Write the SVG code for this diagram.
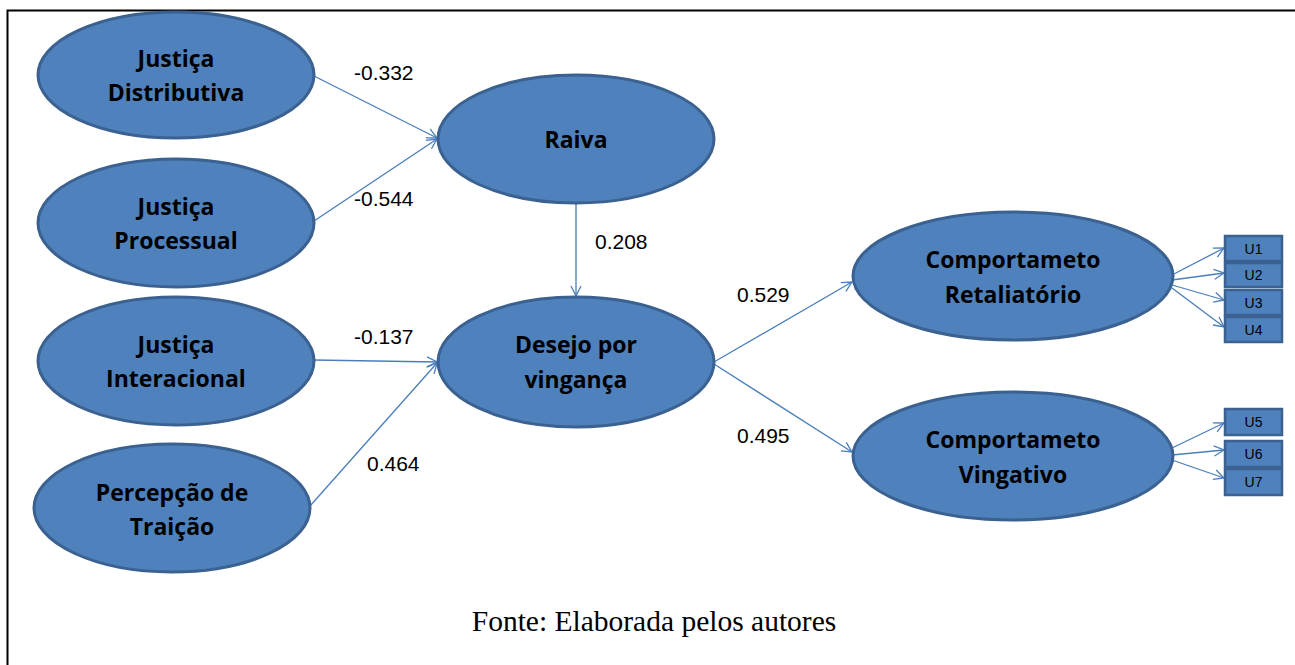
<svg xmlns="http://www.w3.org/2000/svg" width="1295" height="665" viewBox="0 0 1295 665">
<defs>
<style>
.node ellipse{fill:#4F81BD;stroke:#3A6190;stroke-width:3}
.node text{font-family:"Open Sans","Noto Sans",sans-serif;font-weight:700;font-size:23px;fill:#000;text-anchor:middle}
.box rect{fill:#4F81BD;stroke:#3A6190;stroke-width:2.5}
.box text{font-family:"Liberation Sans",Arial,sans-serif;font-size:14px;fill:#000;text-anchor:middle}
.conn line{stroke:#4A7EBB;stroke-width:1.3;fill:none;marker-end:url(#arr)}
.lbl{font-family:"Liberation Sans",Arial,sans-serif;font-size:21px;fill:#000}
</style>
<marker id="arr" viewBox="0 0 12 12" refX="11" refY="6" markerWidth="12" markerHeight="12" markerUnits="userSpaceOnUse" orient="auto">
<path d="M1,1 L11,6 L1,11" fill="none" stroke="#4A7EBB" stroke-width="1.3"/>
</marker>
</defs>
<rect width="1295" height="665" fill="#fff"/>
<path d="M7.5,665 V10.5 H1295" fill="none" stroke="#000" stroke-width="2"/>

<g id="connectors" class="conn">
<line x1="314" y1="76" x2="437" y2="138"/>
<line x1="314" y1="221" x2="437" y2="139"/>
<line x1="576" y1="204" x2="576" y2="296"/>
<line x1="314" y1="360" x2="437" y2="362"/>
<line x1="310" y1="506" x2="437" y2="363"/>
<line x1="714" y1="362" x2="852" y2="282"/>
<line x1="714" y1="364" x2="852" y2="452"/>
<line x1="1172" y1="275" x2="1224" y2="248"/>
<line x1="1172" y1="280" x2="1224" y2="273"/>
<line x1="1172" y1="285" x2="1224" y2="300"/>
<line x1="1172" y1="288" x2="1224" y2="327"/>
<line x1="1172" y1="448" x2="1224" y2="423"/>
<line x1="1172" y1="455" x2="1224" y2="450"/>
<line x1="1172" y1="460" x2="1224" y2="478"/>
</g>

<g id="labels">
<text class="lbl" x="354" y="80">-0.332</text>
<text class="lbl" x="354" y="206">-0.544</text>
<text class="lbl" x="354" y="344">-0.137</text>
<text class="lbl" x="367" y="471">0.464</text>
<text class="lbl" x="595" y="249">0.208</text>
<text class="lbl" x="737" y="302">0.529</text>
<text class="lbl" x="737" y="443">0.495</text>
</g>

<g id="justica-distributiva" class="node">
<ellipse cx="176" cy="75" rx="138" ry="63"/>
<text x="176" y="67">Justiça</text>
<text x="176" y="101">Distributiva</text>
</g>
<g id="justica-processual" class="node">
<ellipse cx="176" cy="223" rx="138" ry="64"/>
<text x="176" y="215">Justiça</text>
<text x="176" y="249">Processual</text>
</g>
<g id="justica-interacional" class="node">
<ellipse cx="176" cy="361" rx="138" ry="64"/>
<text x="176" y="353">Justiça</text>
<text x="176" y="387">Interacional</text>
</g>
<g id="percepcao-traicao" class="node">
<ellipse cx="172" cy="508" rx="138" ry="64"/>
<text x="172" y="501">Percepção de</text>
<text x="172" y="535">Traição</text>
</g>
<g id="raiva" class="node">
<ellipse cx="576" cy="139" rx="138" ry="64"/>
<text x="576" y="148">Raiva</text>
</g>
<g id="desejo" class="node">
<ellipse cx="576" cy="362" rx="138" ry="65"/>
<text x="576" y="353">Desejo por</text>
<text x="576" y="388">vingança</text>
</g>
<g id="comp-retaliatorio" class="node">
<ellipse cx="1013" cy="276" rx="160" ry="64"/>
<text x="1013" y="268">Comportameto</text>
<text x="1013" y="303">Retaliatório</text>
</g>
<g id="comp-vingativo" class="node">
<ellipse cx="1013" cy="456" rx="160" ry="64"/>
<text x="1013" y="448">Comportameto</text>
<text x="1013" y="483">Vingativo</text>
</g>

<g id="U1" class="box"><rect x="1225" y="236" width="57" height="25"/><text x="1253.5" y="253.5">U1</text></g>
<g id="U2" class="box"><rect x="1225" y="263" width="57" height="24"/><text x="1253.5" y="280">U2</text></g>
<g id="U3" class="box"><rect x="1225" y="290" width="57" height="25"/><text x="1253.5" y="307.5">U3</text></g>
<g id="U4" class="box"><rect x="1225" y="317" width="57" height="25"/><text x="1253.5" y="334.5">U4</text></g>
<g id="U5" class="box"><rect x="1225" y="409" width="57" height="26"/><text x="1253.5" y="427">U5</text></g>
<g id="U6" class="box"><rect x="1225" y="441" width="57" height="26"/><text x="1253.5" y="459">U6</text></g>
<g id="U7" class="box"><rect x="1225" y="469" width="57" height="26"/><text x="1253.5" y="487">U7</text></g>

<text x="654" y="631" font-family="'Liberation Serif','Times New Roman',serif" font-size="29.5" text-anchor="middle" fill="#000">Fonte: Elaborada pelos autores</text>
</svg>
